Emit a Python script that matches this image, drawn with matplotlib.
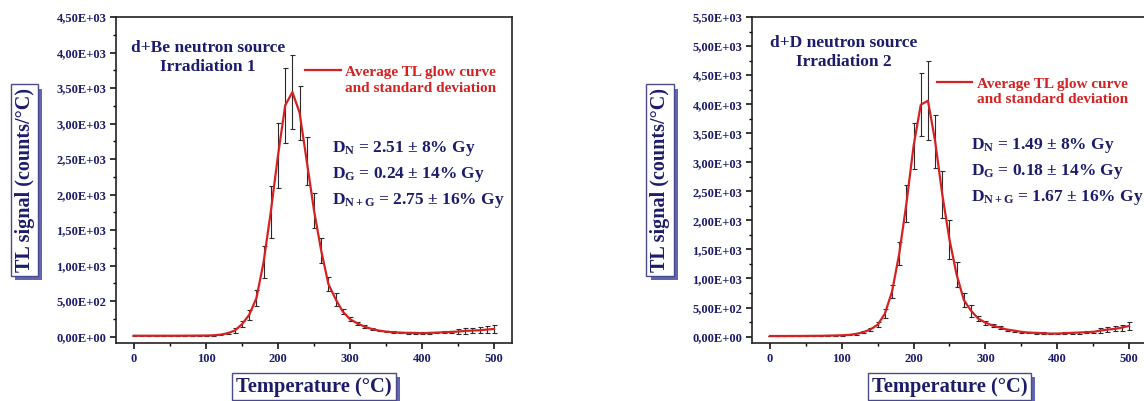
import matplotlib
matplotlib.use("Agg")
import matplotlib.pyplot as plt
import matplotlib.ticker as mticker
import matplotlib.patheffects as pe
import numpy as np

# ── Data: average TL glow curves (counts/°C) every 10 °C ────────────────────
temperature = np.arange(0, 501, 10)

be_mean = [12, 12, 12, 12, 12, 12, 12, 13, 13, 14, 15,
           18, 27, 47, 85, 175, 306, 541, 1048, 1757, 2551,
           3255, 3443, 3152, 2466, 1778, 1210, 740, 528, 352, 245,
           188, 141, 108, 85, 71, 61, 56, 52, 52, 47,
           52, 56, 61, 66, 71, 80, 85, 89, 99, 108]
be_std = [5, 5, 5, 5, 5, 5, 5, 5, 5, 5, 5,
          8, 10, 15, 35, 40, 70, 117, 223, 370, 463,
          528, 524, 380, 338, 251, 176, 103, 92, 40, 25,
          20, 18, 15, 12, 12, 12, 12, 12, 12, 12,
          12, 12, 12, 12, 35, 38, 38, 40, 45, 52]

dd_mean = [10, 10, 10, 11, 11, 12, 13, 14, 16, 19, 23,
           29, 46, 75, 125, 205, 394, 776, 1425, 2290, 3281,
           3990, 4060, 3361, 2442, 1667, 1063, 630, 445, 310, 241,
           190, 155, 121, 103, 81, 69, 64, 58, 52, 52,
           58, 64, 69, 75, 81, 103, 121, 133, 155, 184]
dd_std = [5, 5, 5, 5, 5, 5, 5, 5, 5, 5, 5,
          8, 10, 15, 25, 40, 78, 115, 201, 325, 396,
          540, 684, 460, 402, 333, 213, 121, 100, 50, 35,
          30, 25, 18, 18, 18, 15, 15, 15, 15, 15,
          15, 18, 18, 18, 20, 40, 45, 45, 50, 72]

be_title = "d+Be neutron source\nIrradiation 1"
dd_title = "d+D neutron source\nIrradiation 2"
be_doses = [r"D$_\mathrm{N}$ = 2.51 ± 8% Gy",
            r"D$_\mathrm{G}$ = 0.24 ± 14% Gy",
            r"D$_\mathrm{N+G}$ = 2.75 ± 16% Gy"]
dd_doses = [r"D$_\mathrm{N}$ = 1.49 ± 8% Gy",
            r"D$_\mathrm{G}$ = 0.18 ± 14% Gy",
            r"D$_\mathrm{N+G}$ = 1.67 ± 16% Gy"]
legend_text = "Average TL glow curve\nand standard deviation"

# ── Style ────────────────────────────────────────────────────────────────────
NAVY = "#1c1c6a"
RED = "#d42222"
SHADOW = "#6266b0"

plt.rcParams["font.family"] = ["Liberation Serif", "DejaVu Serif"]
plt.rcParams["font.weight"] = "bold"
plt.rcParams["mathtext.fontset"] = "custom"
plt.rcParams["mathtext.rm"] = "Liberation Serif:bold"
plt.rcParams["mathtext.it"] = "Liberation Serif:bold"
plt.rcParams["mathtext.bf"] = "Liberation Serif:bold"

W, H = 1144, 401
fig = plt.figure(figsize=(W / 100, H / 100), dpi=100)


def px_axes(left, right, top, bottom):
    return [left / W, 1 - bottom / H, (right - left) / W, (bottom - top) / H]


def shadow_box(txt):
    txt.get_bbox_patch().set_path_effects(
        [pe.SimplePatchShadow(offset=(3, -3), shadow_rgbFace=SHADOW, alpha=1.0),
         pe.Normal()])


def draw_panel(ax, mean, std, ymax, ystep, title, title_xy, leg_xy, doses, dose_xy):
    ax.errorbar(temperature, mean, yerr=std, fmt="none", ecolor="#2a2a2a",
                elinewidth=0.8, capsize=1.8, capthick=0.8, zorder=2)
    ax.plot(temperature, mean, color=RED, lw=1.6, zorder=3)

    ax.set_xlim(-25, 525)
    ax.set_ylim(-0.02 * ymax, ymax)
    ax.xaxis.set_major_locator(mticker.MultipleLocator(100))
    ax.xaxis.set_minor_locator(mticker.MultipleLocator(50))
    ax.yaxis.set_major_locator(mticker.MultipleLocator(ystep))
    ax.yaxis.set_minor_locator(mticker.MultipleLocator(ystep / 2))
    ax.yaxis.set_major_formatter(
        mticker.FuncFormatter(lambda v, p: f"{v:.2E}".replace(".", ",")))
    ax.tick_params(which="major", direction="out", length=4, width=1.1,
                   labelsize=9, labelcolor=NAVY, pad=3)
    ax.tick_params(which="minor", direction="out", length=2.5, width=1.0)
    for lab in ax.get_xticklabels() + ax.get_yticklabels():
        lab.set_fontweight("bold")
    for sp in ax.spines.values():
        sp.set_linewidth(1.2)
        sp.set_color("#222222")

    ax.text(title_xy[0], title_xy[1], title, transform=ax.transAxes,
            ha="center", va="center", fontsize=12.5, color=NAVY,
            fontweight="bold", linespacing=1.2)

    ax.plot([leg_xy[0], leg_xy[0] + 0.09], [leg_xy[1] + 0.032] * 2,
            transform=ax.transAxes, color=RED, lw=1.6)
    ax.text(leg_xy[0] + 0.102, leg_xy[1], legend_text, transform=ax.transAxes,
            ha="left", va="center", fontsize=11, color=RED,
            fontweight="bold", linespacing=1.25)

    for i, d in enumerate(doses):
        ax.text(dose_xy[0], dose_xy[1] - i * 0.08, d, transform=ax.transAxes,
                ha="left", va="center", fontsize=12.5, color=NAVY,
                fontweight="bold")

    box = dict(boxstyle="square,pad=0.18", fc="white", ec="#4a4a8a", lw=1.0)
    ax.set_xlabel("Temperature (°C)", fontsize=14.8, color=NAVY,
                  fontweight="bold", bbox=box, va="center", ha="center")
    ax.set_ylabel("TL signal (counts/°C)", fontsize=14.5, color=NAVY,
                  fontweight="bold", bbox=box, va="center", ha="center")
    ax.xaxis.set_label_coords(0.5, -0.134)
    ax.yaxis.set_label_coords(-0.231, 0.5)
    shadow_box(ax.xaxis.label)
    shadow_box(ax.yaxis.label)


ax1 = fig.add_axes(px_axes(116, 512, 17, 343))
draw_panel(ax1, be_mean, be_std, 4500, 500, be_title, (0.232, 0.876),
           (0.477, 0.805), be_doses, (0.545, 0.598))

ax2 = fig.add_axes(px_axes(752, 1147, 17, 343))
draw_panel(ax2, dd_mean, dd_std, 5500, 500, dd_title, (0.233, 0.891),
           (0.468, 0.770), dd_doses, (0.554, 0.607))
ax2.yaxis.set_label_coords(-0.233, 0.5)

fig.savefig("out.png", dpi=100)
